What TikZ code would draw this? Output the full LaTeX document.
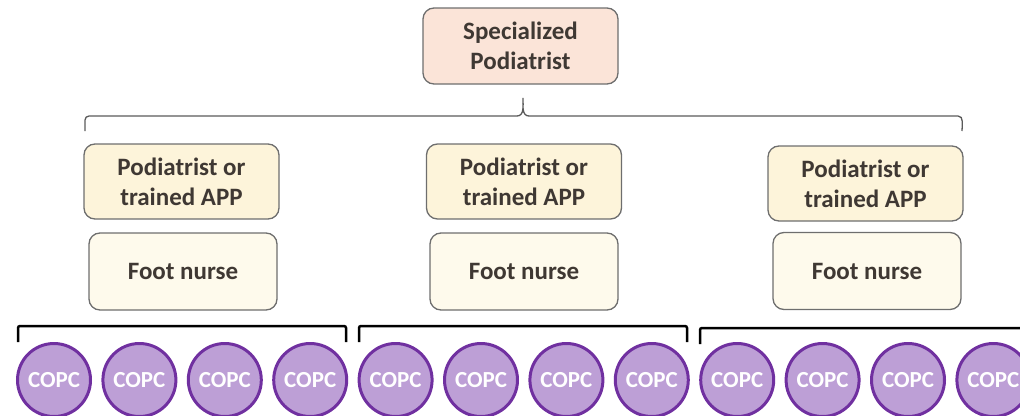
\documentclass[tikz,border=0pt]{standalone}
\usepackage{fontspec}
\setmainfont{Carlito}
\definecolor{boxline}{HTML}{6E6E6E}
\definecolor{boxtext}{HTML}{3F3833}
\definecolor{peach}{HTML}{FBE4D8}
\definecolor{cream}{HTML}{FDF4DA}
\definecolor{paleCream}{HTML}{FEFAEC}
\definecolor{braceGray}{HTML}{5A5A5A}
\definecolor{copcFill}{HTML}{BD9FD6}
\definecolor{copcLine}{HTML}{7030A0}
\begin{document}
\begin{tikzpicture}[x=1pt,y=-1pt,
  box/.style={draw=boxline, line width=1.3pt, rounded corners=11pt,
    inner sep=0pt, align=center, text=boxtext,
    font=\fontsize{25}{30}\selectfont\bfseries},
  rolebox/.style={box, fill=cream, minimum width=195pt, minimum height=75pt},
  nursebox/.style={box, fill=paleCream, minimum width=188pt, minimum height=77pt},
  bracket/.style={draw=black, line width=2.5pt, rounded corners=2pt},
  copc/.style={circle, draw=copcLine, fill=copcFill, line width=3pt,
    minimum size=73pt, inner sep=0pt, text=white,
    font=\fontsize{23}{26}\selectfont\bfseries}]
\useasboundingbox (0,0) rectangle (1020,415);
\clip (0,0) rectangle (1020,415);

% top of the hierarchy
\node[box, fill=peach, minimum width=195pt, minimum height=76pt]
  (spec) at (520.5,46) {Specialized\\Podiatrist};

% three local teams
\node[rolebox] (pod1) at (181.5,181.5) {Podiatrist or\\trained APP};
\node[rolebox] (pod2) at (524,181.5) {Podiatrist or\\trained APP};
\node[rolebox] (pod3) at (865.5,183.5) {Podiatrist or\\trained APP};
\node[nursebox] (nurse1) at (183,271.5) {Foot nurse};
\node[nursebox] (nurse2) at (524,271.5) {Foot nurse};
\node[nursebox] (nurse3) at (867,271) {Foot nurse};

% brace joining the specialist to the teams
\coordinate (bl) at (85,131);
\coordinate (br) at (962,131);
\coordinate (bm) at (523,98);
\draw[braceGray, line width=1.3pt]
  (bl) -- (85,120) to[out=90,in=180] (89,116) -- (517,116)
  to[out=0,in=-90] (bm) to[out=-90,in=180] (529,116) -- (958,116)
  to[out=0,in=90] (br);

% primary care centres
\foreach \i in {0,...,11}{
  \node[copc] (copc\i) at ({54+85.4*\i},380) {COPC};
}

% brackets grouping the centres under each team
\coordinate (g1a) at (18,342);  \coordinate (g1b) at (346,342);
\coordinate (g2a) at (359,342); \coordinate (g2b) at (687,342);
\coordinate (g3a) at (700,344); \coordinate (g3b) at (1030,328);
\draw[bracket] (g1a) -- (18,326) -- (346,326) -- (g1b);
\draw[bracket] (g2a) -- (359,326) -- (687,326) -- (g2b);
\draw[bracket] (g3a) -- (700,328) -- (g3b);
\end{tikzpicture}
\end{document}
